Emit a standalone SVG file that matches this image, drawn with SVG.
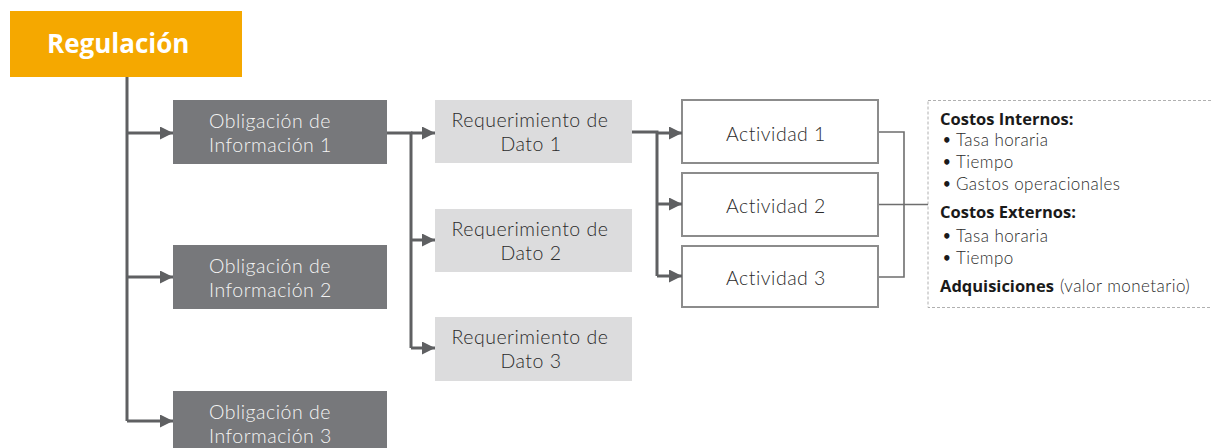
<svg xmlns="http://www.w3.org/2000/svg" width="1211" height="448" viewBox="0 0 1211 448">
<defs>
<marker id="arr" markerUnits="userSpaceOnUse" markerWidth="14" markerHeight="14" refX="13" refY="6.5" orient="auto">
<path d="M0 0 L13 6.5 L0 13 Z" fill="#5f6062"/>
</marker>
<style>
.conn{fill:none;stroke:#5f6062;stroke-width:3}
.thin{fill:none;stroke:#6e6e6e;stroke-width:1.6}
.obl{fill:#77787b}
.req{fill:#dcdcdd}
.act{fill:#ffffff;stroke:#8c8c8c;stroke-width:2}
.t{font-family:Lato,"Open Sans","Liberation Sans",sans-serif;font-weight:300;font-size:19.5px;letter-spacing:0.5px}
.tw{fill:#f4f4f4}
.td{fill:#2b2b2b}
.b{font-family:"Open Sans","Liberation Sans",sans-serif;font-weight:700;font-size:16.5px;fill:#1a1a1a}
.l{font-family:Lato,"Open Sans","Liberation Sans",sans-serif;font-weight:300;font-size:17px;letter-spacing:0.45px;fill:#2b2b2b}
.bu{font-family:"DejaVu Sans","Liberation Sans",sans-serif;font-weight:700;font-size:15px;fill:#1a1a1a}
</style>
</defs>
<rect width="1211" height="448" fill="#ffffff"/>

<g id="regulacion">
<rect x="10" y="11" width="232" height="66" fill="#f5a800"/>
<text x="47" y="53" font-family="Open Sans, Liberation Sans, sans-serif" font-weight="700" font-size="26" fill="#ffffff">Regulación</text>
</g>

<g id="obligacion1">
<rect class="obl" x="173" y="100" width="214" height="64"/>
<text class="t tw" x="209" y="128">Obligación de</text>
<text class="t tw" x="209" y="152">Información 1</text>
</g>
<g id="obligacion2">
<rect class="obl" x="173" y="245" width="214" height="64"/>
<text class="t tw" x="209" y="273">Obligación de</text>
<text class="t tw" x="209" y="297">Información 2</text>
</g>
<g id="obligacion3">
<rect class="obl" x="173" y="391" width="214" height="64"/>
<text class="t tw" x="209" y="419">Obligación de</text>
<text class="t tw" x="209" y="443">Información 3</text>
</g>

<g id="requerimiento1">
<rect class="req" x="435" y="100" width="197" height="63"/>
<text class="t td" x="530" y="127" text-anchor="middle">Requerimiento de</text>
<text class="t td" x="531" y="151" text-anchor="middle">Dato 1</text>
</g>
<g id="requerimiento2">
<rect class="req" x="435" y="209" width="197" height="63"/>
<text class="t td" x="530" y="236" text-anchor="middle">Requerimiento de</text>
<text class="t td" x="531" y="260" text-anchor="middle">Dato 2</text>
</g>
<g id="requerimiento3">
<rect class="req" x="435" y="317" width="197" height="64"/>
<text class="t td" x="530" y="344" text-anchor="middle">Requerimiento de</text>
<text class="t td" x="531" y="368" text-anchor="middle">Dato 3</text>
</g>

<g id="actividad1">
<rect class="act" x="682" y="100" width="196" height="63"/>
<text class="t td" x="776" y="141" text-anchor="middle">Actividad 1</text>
</g>
<g id="actividad2">
<rect class="act" x="682" y="173" width="196" height="63"/>
<text class="t td" x="776" y="213" text-anchor="middle">Actividad 2</text>
</g>
<g id="actividad3">
<rect class="act" x="682" y="246" width="196" height="61"/>
<text class="t td" x="776" y="285" text-anchor="middle">Actividad 3</text>
</g>

<g id="costos">
<rect x="928" y="100.5" width="300" height="207" fill="none" stroke="#b0b0b0" stroke-width="1" stroke-dasharray="3 2"/>
<text class="b" x="940" y="125">Costos Internos:</text>
<text class="bu" x="942" y="146">•</text><text class="l" x="956" y="146">Tasa horaria</text>
<text class="bu" x="942" y="168">•</text><text class="l" x="956" y="168">Tiempo</text>
<text class="bu" x="942" y="190">•</text><text class="l" x="956" y="190">Gastos operacionales</text>
<text class="b" x="940" y="218">Costos Externos:</text>
<text class="bu" x="942" y="242">•</text><text class="l" x="956" y="242">Tasa horaria</text>
<text class="bu" x="942" y="264">•</text><text class="l" x="956" y="264">Tiempo</text>
<text x="940" y="292"><tspan class="b">Adquisiciones</tspan><tspan class="l" dx="6">(valor monetario)</tspan></text>
</g>

<g id="connectors">
<path class="conn" d="M127 77 V421"/>
<path class="conn" d="M127 133 H173" marker-end="url(#arr)"/>
<path class="conn" d="M127 277 H173" marker-end="url(#arr)"/>
<path class="conn" d="M127 421 H173" marker-end="url(#arr)"/>
<path class="conn" d="M387 133 H411 V348"/>
<path class="conn" d="M411 133 H435" marker-end="url(#arr)"/>
<path class="conn" d="M411 240 H435" marker-end="url(#arr)"/>
<path class="conn" d="M411 348 H435" marker-end="url(#arr)"/>
<path class="conn" d="M632 132 H657 V276"/>
<path class="conn" d="M657 133 H682" marker-end="url(#arr)"/>
<path class="conn" d="M657 204 H682" marker-end="url(#arr)"/>
<path class="conn" d="M657 276 H682" marker-end="url(#arr)"/>
<path class="thin" d="M879 132 H904 V277 H879"/>
<path class="thin" d="M879 204.5 H928"/>
</g>
</svg>
